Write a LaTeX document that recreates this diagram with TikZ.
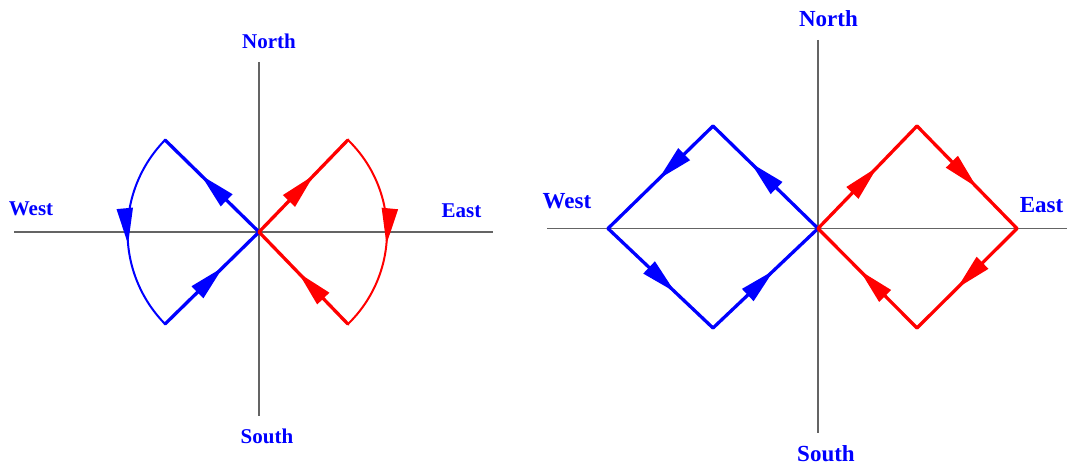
\documentclass[tikz,border=0pt]{standalone}
\usepackage{fontspec}
\setmainfont{Liberation Serif}
\usetikzlibrary{arrows.meta,decorations.markings,calc}
\definecolor{axisgray}{RGB}{100,100,100}
\definecolor{pblue}{RGB}{0,0,255}
\definecolor{pred}{RGB}{255,0,0}
\tikzset{
  axisline/.style={draw=axisgray,line width=1.5pt},
  lbl/.style={text=pblue,font=\bfseries\fontsize{21}{24}\selectfont,inner sep=0pt,anchor=center},
  lblbig/.style={lbl,font=\bfseries\fontsize{23}{26}\selectfont},
  seg/.style={line width=3.3pt,line cap=round,line join=round},
  arcseg/.style={line width=2pt},
  arr/.style={postaction={decorate},decoration={markings,mark=at position #1 with {\arrow{Triangle[length=36pt,width=16pt]}}}},
}
\begin{document}
\begin{tikzpicture}[x=1pt,y=1pt]
\useasboundingbox (0,0) rectangle (1067,467);
% ---------- left diagram ----------
\coordinate (O1) at (259,235);
\coordinate (N1) at (259,405);
\coordinate (S1) at (259,51);
\coordinate (W1) at (14,235);
\coordinate (E1) at (493,235);
\draw[axisline] (N1) -- (S1);
\draw[axisline] (W1) -- (E1);
\coordinate (NW1) at ([shift={(135.6:131.5)}]O1);
\coordinate (SW1) at ([shift={(224.4:131.5)}]O1);
\coordinate (NE1) at ([shift={(46:128)}]O1);
\coordinate (SE1) at ([shift={(-46:128)}]O1);
\node[lbl] (tN1) at (269,425.5) {North};
\node[lbl] (tS1) at (267,31) {South};
\node[lbl] (tW1) at (31,258) {West};
\node[lbl] (tE1) at (461.5,256) {East};
% blue loop
\draw[pblue,seg,arr=0.62] (O1) -- (NW1);
\draw[pblue,arcseg,arr=0.56] (NW1) arc[start angle=135.6,end angle=224.4,radius=131.5];
\draw[pblue,seg,arr=0.62] (SW1) -- (O1);
% red loop
\draw[pred,seg,arr=0.62] (O1) -- (NE1);
\draw[pred,arcseg,arr=0.56] (NE1) arc[start angle=46,end angle=-46,radius=128];
\draw[pred,seg,arr=0.56] (SE1) -- (O1);
% ---------- right diagram ----------
\coordinate (O2) at (818,238.5);
\coordinate (N2) at (818,427);
\coordinate (S2) at (818,34);
\coordinate (W2) at (547,238.5);
\coordinate (E2) at (1067,238.5);
\draw[axisline] (N2) -- (S2);
\draw[axisline] (W2) -- (E2);
\node[lblbig] (tN2) at (828.5,448.5) {North};
\node[lblbig] (tS2) at (826,13) {South};
\node[lblbig] (tW2) at (567,265.5) {West};
\node[lblbig] (tE2) at (1041.5,262) {East};
\coordinate (BT) at (713,341);
\coordinate (BW) at (608,238.5);
\coordinate (BB) at (713,139);
\coordinate (RT) at (917,341);
\coordinate (RE) at (1017,238.5);
\coordinate (RB) at (917,139);
% blue diamond
\draw[pblue,seg,arr=0.64] (O2) -- (BT);
\draw[pblue,seg,arr=0.52] (BT) -- (BW);
\draw[pblue,seg,arr=0.64] (BW) -- (BB);
\draw[pblue,seg,arr=0.58] (BB) -- (O2);
% red diamond
\draw[pred,seg,arr=0.6] (O2) -- (RT);
\draw[pred,seg,arr=0.6] (RT) -- (RE);
\draw[pred,seg,arr=0.6] (RE) -- (RB);
\draw[pred,seg,arr=0.58] (RB) -- (O2);
\end{tikzpicture}
\end{document}
